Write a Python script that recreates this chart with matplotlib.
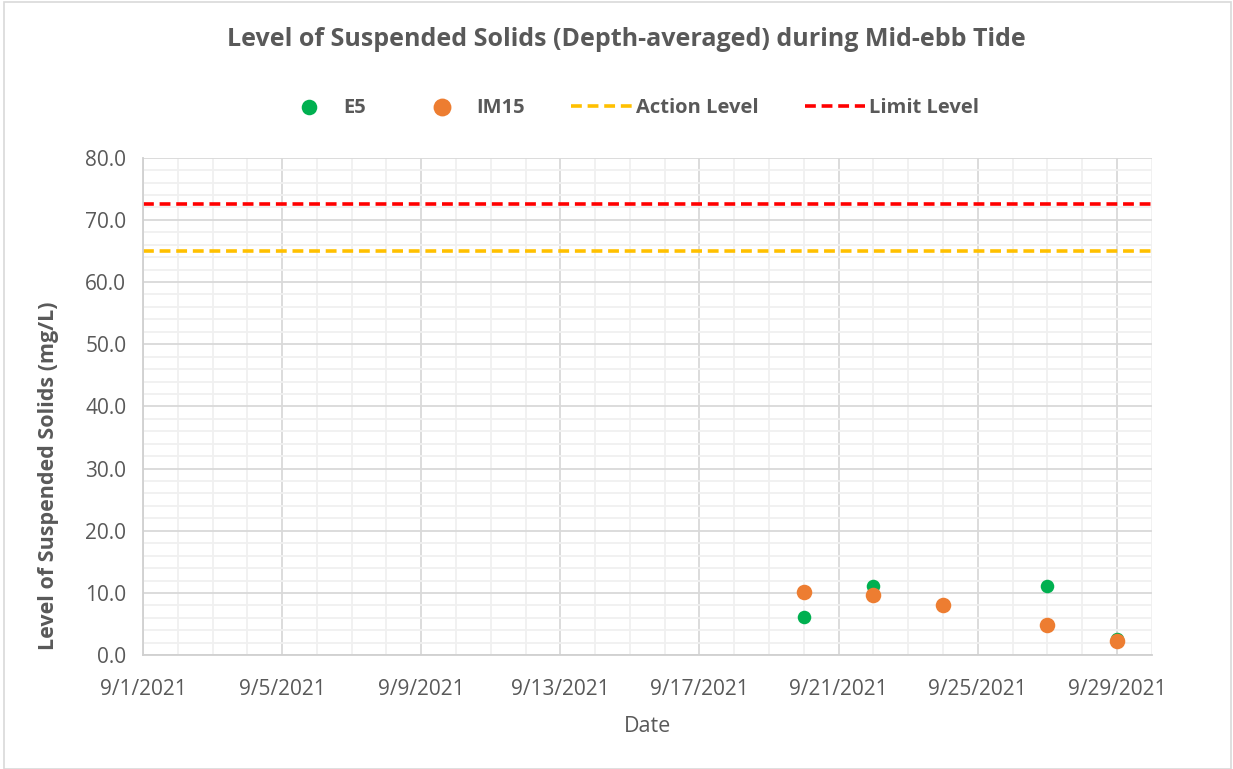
import matplotlib
matplotlib.use("Agg")
import matplotlib.pyplot as plt
import matplotlib.dates as mdates
from matplotlib.ticker import MultipleLocator
from matplotlib.patches import Rectangle
import datetime as dt

plt.rcParams['font.family'] = ['Open Sans', 'DejaVu Sans']

# data
e5_dates = ["2021-09-20", "2021-09-22", "2021-09-24", "2021-09-27", "2021-09-29"]
e5_vals = [6.1, 11.1, 8.0, 11.1, 2.6]
im15_dates = ["2021-09-20", "2021-09-22", "2021-09-24", "2021-09-27", "2021-09-29"]
im15_vals = [10.1, 9.7, 8.0, 4.8, 2.3]
action_level = 65.0
limit_level = 72.5
x_start = "2021-09-01"
x_end = "2021-09-30"

grey = "#595959"

e5_x = [dt.datetime.strptime(d, "%Y-%m-%d") for d in e5_dates]
im15_x = [dt.datetime.strptime(d, "%Y-%m-%d") for d in im15_dates]
x0 = dt.datetime.strptime(x_start, "%Y-%m-%d")
x1 = dt.datetime.strptime(x_end, "%Y-%m-%d")

fig = plt.figure(figsize=(12.33, 7.69), dpi=100)
ax = fig.add_axes([0.116, 0.148, 0.818, 0.647])

ax.scatter(e5_x, e5_vals, s=95, color="#00b050", zorder=3, label="E5", linewidths=0)
ax.scatter(im15_x, im15_vals, s=125, color="#ed7d31", zorder=4, label="IM15", linewidths=0)
ax.plot([x0, x1], [action_level, action_level], color="#ffc000", lw=2.6,
        dashes=(3, 1.6), label="Action Level", zorder=2)
ax.plot([x0, x1], [limit_level, limit_level], color="#ff0000", lw=2.6,
        dashes=(3, 1.6), label="Limit Level", zorder=2)

ax.set_xlim(x0, x1)
ax.set_ylim(0, 80)
ax.xaxis.set_major_locator(mdates.DayLocator(bymonthday=[1, 5, 9, 13, 17, 21, 25, 29]))
ax.xaxis.set_minor_locator(mdates.DayLocator())
ax.xaxis.set_major_formatter(mdates.DateFormatter("%-m/%-d/%Y"))
ax.yaxis.set_major_locator(MultipleLocator(10))
ax.yaxis.set_minor_locator(MultipleLocator(2))
ax.yaxis.set_major_formatter(plt.FuncFormatter(lambda v, p: "%.1f" % v))

ax.grid(which="major", color="#d9d9d9", lw=1.3)
ax.grid(which="minor", color="#f0f0f0", lw=1.3)
ax.set_axisbelow(True)
ax.tick_params(which="both", length=0, labelsize=15, colors=grey, pad=12)
ax.tick_params(axis="x", pad=17)
for s in ["top", "right"]:
    ax.spines[s].set_visible(False)
for s in ["left", "bottom"]:
    ax.spines[s].set_color("#d0d0d0")
    ax.spines[s].set_linewidth(1.3)

ax.set_xlabel("Date", fontsize=15.5, color=grey, labelpad=12)
ax.set_ylabel("Level of Suspended Solids (mg/L)", fontsize=15.5, color=grey,
              fontweight="bold")
ax.yaxis.set_label_coords(-0.083, 0.36)

fig.suptitle("Level of Suspended Solids (Depth-averaged) during Mid-ebb Tide",
             fontsize=18, fontweight="bold", color=grey, x=0.508, y=0.965)

fig.legend(loc="center", bbox_to_anchor=(0.51, 0.86), ncol=4, frameon=False,
           labelcolor=grey, prop={"weight": "bold", "size": 14.5},
           handlelength=3.0, columnspacing=2.3, handletextpad=0.2, markerscale=1.15)

fig.patches.append(Rectangle((0.003, 0.0), 0.995, 0.998, transform=fig.transFigure,
                             fill=False, edgecolor="#d9d9d9", lw=1.2))

fig.savefig("out.png", dpi=100)
